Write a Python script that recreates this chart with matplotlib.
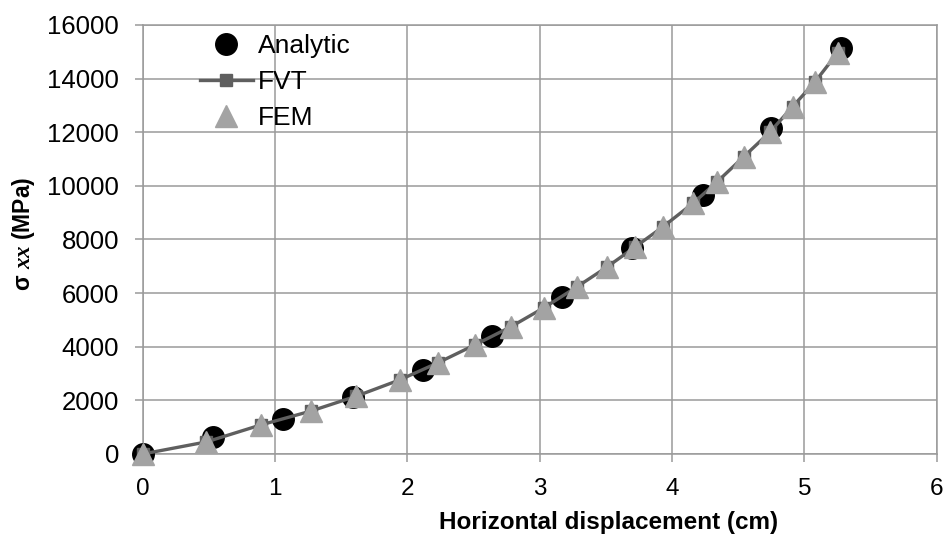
import matplotlib
matplotlib.use("Agg")
import matplotlib.pyplot as plt

# Analytic solution points
analytic_x = [0.0, 0.53, 1.06, 1.59, 2.12, 2.64, 3.17, 3.70, 4.23, 4.75, 5.28]
analytic_y = [0, 620, 1310, 2140, 3140, 4400, 5860, 7680, 9660, 12160, 15130]

# FVT and FEM solution points
num_x = [0.0, 0.48, 0.89, 1.27, 1.61, 1.94, 2.23, 2.51, 2.78, 3.03, 3.28,
         3.51, 3.72, 3.93, 4.16, 4.34, 4.54, 4.74, 4.91, 5.08, 5.25]
fvt_y = [0, 450, 1080, 1600, 2150, 2760, 3400, 4070, 4740, 5450, 6230,
         6980, 7720, 8470, 9360, 10150, 11080, 12010, 12950, 13880, 14960]
fem_y = [0, 450, 1080, 1600, 2150, 2760, 3400, 4070, 4740, 5450, 6230,
         6980, 7720, 8470, 9360, 10150, 11080, 12010, 12950, 13880, 14960]

x_ticks = [0, 1, 2, 3, 4, 5, 6]
y_ticks = [0, 2000, 4000, 6000, 8000, 10000, 12000, 14000, 16000]

plt.rcParams['font.family'] = ['Liberation Sans', 'DejaVu Sans']
plt.rcParams['mathtext.fontset'] = 'custom'
plt.rcParams['mathtext.it'] = 'Liberation Serif:italic:bold'
plt.rcParams['mathtext.rm'] = 'Liberation Sans:bold'

fig = plt.figure(figsize=(9.52, 5.42), dpi=100)
ax = fig.add_axes([0.150, 0.1624, 0.834, 0.7915])

grid_c = '#9a9a9a'
ax.set_xlim(0, 6)
ax.set_ylim(0, 16000)
ax.set_xticks(x_ticks)
ax.set_yticks(y_ticks)
ax.grid(True, color=grid_c, linewidth=1.1)
ax.set_axisbelow(True)
for s in ax.spines.values():
    s.set_color(grid_c)
    s.set_linewidth(1.1)
ax.tick_params(axis='both', colors=grid_c, labelcolor='black',
               length=6, width=1.1, direction='out')
ax.tick_params(axis='x', pad=11, labelsize=17.5)
ax.tick_params(axis='y', pad=11, labelsize=18.5)

ax.plot(analytic_x, analytic_y, linestyle='none', marker='o', color='black',
        markersize=15.5, label='Analytic', zorder=3, clip_on=False)
ax.plot(num_x, fvt_y, linestyle='-', color='#5f5f5f', linewidth=2.4,
        marker='s', markersize=8, markerfacecolor='#5f5f5f',
        markeredgecolor='#5f5f5f', label='FVT', zorder=4, clip_on=False)
ax.plot(num_x, fem_y, linestyle='none', marker='^', color='#a3a3a3',
        markersize=16, label='FEM', zorder=5, clip_on=False)

leg = ax.legend(loc='upper left', bbox_to_anchor=(0.0718, 0.978), frameon=False,
                fontsize=19, handlelength=2.0, handletextpad=0.2,
                labelspacing=0.45, borderaxespad=0.0, borderpad=0.0)

ax.set_xlabel('Horizontal displacement (cm)', fontsize=17.5, fontweight='bold')
ax.xaxis.set_label_coords(0.587, -0.134)
ax.xaxis.label.set_va('top')
ax.set_ylabel(r'σ $\mathit{xx}$ (MPa)', fontsize=16.5, fontweight='bold')
ax.yaxis.set_label_coords(-0.133, 0.513)

fig.savefig('out.png', dpi=100, facecolor='white')
